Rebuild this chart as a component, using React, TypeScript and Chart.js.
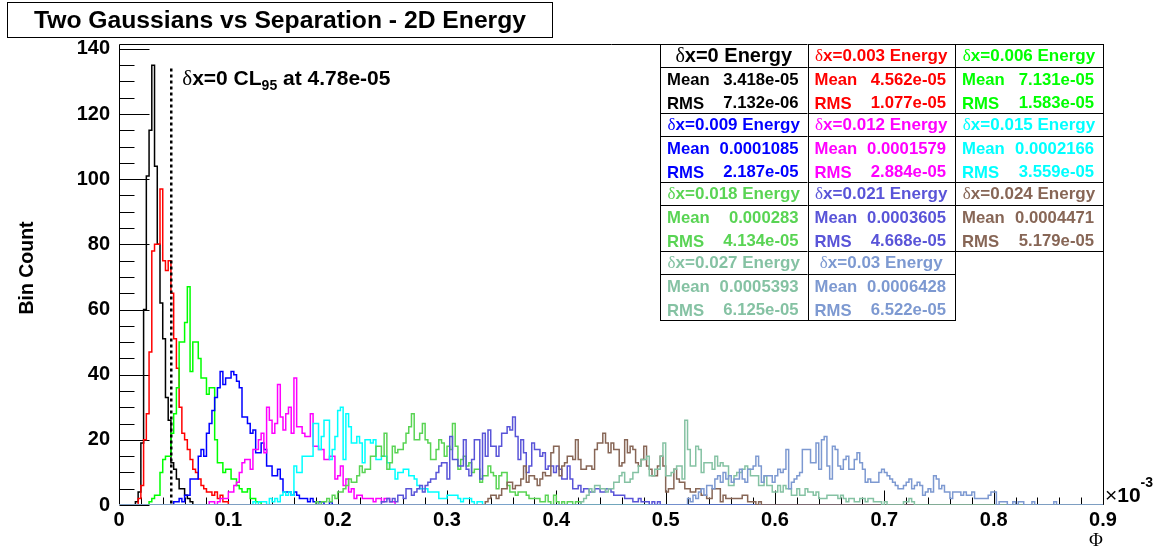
import React, { useEffect, useRef } from 'react';
import { Chart, registerables } from 'chart.js';

Chart.register(...registerables);

const WIDTH = 1163;
const HEIGHT = 551;
const SANS = '"Liberation Sans", Arial, Helvetica, sans-serif';
const SERIF = '"Liberation Serif", "Times New Roman", serif';

// ---- axes ----
const BIN_WIDTH = 0.0025; // in units of 1e-3
const X_MIN = 0;
const X_MAX = 0.9;
const Y_MIN = 0;
const Y_MAX = 141.5;
const X_TICK_STEP = 0.1;
const X_MINOR_STEP = 0.02;
const Y_TICK_STEP = 20;
const Y_MINOR_STEP = 5;

const chartTitle = 'Two Gaussians vs Separation - 2D Energy';
const yAxisTitle = 'Bin Count';
const xAxisTitle = 'Φ';

// ---- series ----
const seriesLabels = ['δx=0', 'δx=0.003', 'δx=0.006', 'δx=0.009', 'δx=0.012', 'δx=0.015', 'δx=0.018', 'δx=0.021', 'δx=0.024', 'δx=0.027', 'δx=0.03'];
const seriesColors = ['#000000', '#ff0000', '#00ff00', '#0000ff', '#ff00ff', '#00ffff', '#59d454', '#5954d8', '#876656', '#85c2a3', '#7d99d1'];
const seriesMeans = ['3.418e-05', '4.562e-05', '7.131e-05', '0.0001085', '0.0001579', '0.0002166', '0.000283', '0.0003605', '0.0004471', '0.0005393', '0.0006428'];
const seriesRms = ['7.132e-06', '1.077e-05', '1.583e-05', '2.187e-05', '2.884e-05', '3.559e-05', '4.134e-05', '4.668e-05', '5.179e-05', '6.125e-05', '6.522e-05'];
const seriesFirstBins = [6, 7, 11, 20, 33, 49, 72, 96, 134, 169, 208];

const countsDx0 = [1, 4, 19, 60, 101, 115, 135, 104, 80, 62, 51, 33, 26, 13, 11, 8, 5, 5, 3, 2, 1];
const countsDx003 = [2, 6, 20, 28, 47, 78, 80, 80, 97, 75, 72, 75, 65, 51, 42, 30, 22, 20, 17, 14, 11, 10, 8, 6, 5, 4, 4, 3, 4, 2, 3, 1, 1];
const countsDx006 = [1, 2, 3, 3, 10, 14, 15, 15, 22, 28, 36, 50, 50, 56, 67, 41, 50, 50, 45, 39, 39, 34, 36, 36, 20, 13, 13, 10, 11, 11, 8, 8, 6, 5, 4, 4, 5, 2, 2, 1, 1];
const countsDx009 = [1, 1, 2, 1, 3, 3, 8, 8, 8, 15, 17, 15, 22, 25, 29, 33, 36, 41, 37, 39, 39, 41, 40, 38, 36, 27, 27, 25, 22, 23, 16, 16, 19, 17, 12, 12, 9, 9, 11, 8, 4, 4, 4, 3, 4, 3, 2, 2, 2, 1, 2, 1, 0, 1, 1, 0, 0, 1];
const countsDx012 = [1, 1, 0, 1, 2, 2, 2, 4, 4, 6, 7, 10, 13, 14, 14, 11, 17, 17, 20, 22, 16, 30, 26, 22, 25, 37, 27, 23, 28, 30, 22, 39, 24, 24, 22, 21, 21, 28, 18, 18, 17, 17, 14, 14, 15, 15, 8, 9, 12, 6, 8, 4, 5, 2, 3, 3, 2, 2, 2, 2, 1, 2, 2, 1, 2, 2, 1, 1];
const countsDx015 = [1, 0, 1, 1, 1, 0, 2, 1, 2, 1, 3, 4, 3, 4, 3, 12, 10, 10, 15, 15, 15, 15, 25, 25, 17, 21, 26, 26, 14, 17, 21, 29, 30, 14, 28, 24, 19, 19, 21, 19, 13, 20, 20, 19, 20, 14, 14, 15, 15, 13, 11, 11, 8, 10, 10, 11, 11, 9, 9, 8, 6, 5, 5, 5, 4, 4, 4, 4, 2, 2, 2, 3, 3, 3, 3, 2, 1, 2, 2, 2, 1, 0, 1, 1];
const countsDx018 = [1, 0, 1, 1, 2, 1, 3, 2, 4, 4, 5, 6, 8, 7, 7, 9, 12, 10, 11, 11, 15, 15, 18, 18, 15, 22, 11, 13, 18, 16, 17, 17, 19, 22, 24, 28, 20, 20, 22, 25, 20, 19, 14, 14, 17, 20, 19, 15, 18, 17, 25, 18, 11, 14, 15, 12, 13, 10, 11, 11, 7, 9, 9, 12, 10, 9, 5, 9, 10, 10, 6, 4, 4, 3, 4, 4, 4, 3, 2, 2, 2, 2, 1, 1, 3, 1, 0, 3, 1, 0, 1, 0, 1, 1, 0, 1, 1];
const countsDx021 = [1, 1, 2, 1, 2, 1, 3, 3, 2, 5, 5, 3, 4, 5, 6, 4, 6, 7, 8, 8, 10, 12, 13, 13, 8, 21, 14, 14, 12, 12, 20, 11, 9, 14, 20, 20, 8, 22, 15, 23, 18, 18, 15, 18, 22, 22, 24, 23, 27, 21, 14, 20, 16, 10, 12, 19, 17, 17, 15, 16, 11, 12, 12, 10, 12, 11, 8, 8, 12, 8, 5, 5, 6, 4, 5, 5, 4, 4, 5, 5, 4, 4, 5, 5, 4, 3, 3, 3, 3, 2, 2, 2, 1, 1, 2, 1, 1, 1, 0, 1, 0, 1];
const countsDx024 = [1, 2, 3, 3, 2, 3, 5, 5, 7, 7, 5, 6, 6, 8, 12, 7, 9, 9, 8, 6, 8, 10, 9, 9, 16, 18, 18, 9, 12, 13, 15, 15, 14, 20, 14, 11, 11, 12, 12, 11, 17, 19, 19, 22, 19, 16, 19, 17, 17, 12, 13, 20, 16, 18, 17, 13, 12, 14, 18, 12, 11, 9, 9, 12, 15, 12, 4, 5, 5, 11, 8, 7, 7, 5, 5, 4, 4, 5, 5, 3, 3, 2, 2, 5, 5, 5, 1, 3, 2, 2, 2, 2, 2, 2, 3, 3, 1, 1, 1, 0, 1];
const countsDx027 = [1, 2, 3, 5, 4, 6, 6, 5, 5, 4, 5, 5, 7, 7, 9, 10, 7, 7, 8, 10, 10, 12, 14, 14, 15, 9, 9, 11, 11, 15, 19, 9, 9, 10, 11, 12, 12, 8, 26, 17, 12, 12, 18, 17, 10, 13, 13, 13, 11, 15, 12, 13, 12, 12, 6, 6, 9, 10, 10, 11, 12, 11, 9, 9, 9, 6, 6, 9, 6, 6, 4, 4, 6, 4, 6, 5, 5, 3, 3, 5, 3, 3, 5, 4, 4, 3, 4, 2, 2, 2, 3, 3, 3, 3, 2, 3, 2, 1, 2, 2, 1, 1, 2, 2, 1, 2, 2, 1, 1, 1, 0, 1, 0, 0, 0, 0, 0, 0, 1, 1, 2, 1];
const countsDx030 = [2, 1, 3, 2, 4, 5, 3, 6, 6, 5, 8, 9, 7, 10, 8, 9, 7, 8, 8, 11, 8, 7, 11, 11, 12, 15, 12, 7, 9, 9, 9, 7, 9, 11, 10, 11, 17, 5, 7, 8, 9, 10, 17, 17, 17, 13, 13, 19, 11, 20, 21, 12, 8, 18, 17, 12, 11, 14, 15, 11, 11, 14, 16, 13, 11, 7, 8, 7, 7, 7, 10, 11, 10, 9, 8, 7, 6, 5, 5, 6, 7, 8, 5, 6, 7, 6, 3, 4, 5, 4, 9, 8, 5, 6, 4, 4, 2, 4, 4, 4, 3, 4, 3, 3, 4, 2, 2, 2, 2, 2, 3, 4, 4, 0, 1, 1, 1, 0, 0, 1, 0, 1, 1, 0, 0, 0, 1, 0, 0, 0, 0, 0, 0, 0, 1];

const seriesCounts = [countsDx0, countsDx003, countsDx006, countsDx009, countsDx012, countsDx015, countsDx018, countsDx021, countsDx024, countsDx027, countsDx030];

// ---- annotation ----
const cl95Value = 0.0478;
const cl95Height = 134;
const cl95Label = '4.78e-05';

function buildHistogram(firstBin: number, counts: number[]) {
  const pts: { x: number; y: number }[] = [{ x: X_MIN, y: 0 }];
  counts.forEach((c, i) => pts.push({ x: (firstBin + i) * BIN_WIDTH, y: c }));
  pts.push({ x: (firstBin + counts.length) * BIN_WIDTH, y: 0 });
  pts.push({ x: X_MAX, y: 0 });
  return pts;
}

type Seg = { text: string; font: string; dy?: number };

function drawSegs(ctx: CanvasRenderingContext2D, segs: Seg[], x: number, y: number, align: 'left' | 'center' | 'right') {
  const widths = segs.map((s) => {
    ctx.font = s.font;
    return ctx.measureText(s.text).width;
  });
  const total = widths.reduce((a, b) => a + b, 0);
  let cx = align === 'left' ? x : align === 'center' ? x - total / 2 : x - total;
  ctx.textAlign = 'left';
  ctx.textBaseline = 'alphabetic';
  segs.forEach((s, i) => {
    ctx.font = s.font;
    ctx.fillText(s.text, cx, y + (s.dy || 0));
    cx += widths[i];
  });
}

const rootStylePlugin = {
  id: 'rootStyle',
  beforeDraw(chart: any) {
    const ctx = chart.ctx as CanvasRenderingContext2D;
    ctx.save();
    ctx.fillStyle = '#ffffff';
    ctx.fillRect(0, 0, chart.width, chart.height);
    ctx.restore();
  },
  beforeDatasetsDraw(chart: any) {
    const ctx = chart.ctx as CanvasRenderingContext2D;
    const a = chart.chartArea;
    const xs = chart.scales.x;
    const ys = chart.scales.y;
    ctx.save();
    ctx.strokeStyle = '#000000';
    ctx.lineWidth = 1;
    const L = Math.round(a.left) + 0.5;
    const R = Math.round(a.right) + 0.5;
    const T = Math.round(a.top) + 0.5;
    const B = Math.round(a.bottom) - 0.5;
    ctx.beginPath();
    ctx.moveTo(L, T);
    ctx.lineTo(R, T);
    ctx.lineTo(R, B);
    ctx.lineTo(L, B);
    ctx.closePath();
    ctx.stroke();
    // y ticks (inside)
    ctx.beginPath();
    for (let v = Y_MIN; v <= 140 + 1e-9; v += Y_MINOR_STEP) {
      const py = Math.round(ys.getPixelForValue(v)) + 0.5;
      const len = Math.abs(v % Y_TICK_STEP) < 1e-9 ? 30 : 15;
      ctx.moveTo(L, py);
      ctx.lineTo(L + len, py);
    }
    // x ticks (inside)
    const nMinor = Math.round((X_MAX - X_MIN) / X_MINOR_STEP);
    const perMajor = Math.round(X_TICK_STEP / X_MINOR_STEP);
    for (let k = 0; k <= nMinor; k++) {
      const v = X_MIN + k * X_MINOR_STEP;
      const px = Math.round(xs.getPixelForValue(v)) + 0.5;
      const len = k % perMajor === 0 ? 14 : 7;
      ctx.moveTo(px, B);
      ctx.lineTo(px, B - len);
    }
    ctx.stroke();
    ctx.restore();
  },
  afterDatasetsDraw(chart: any) {
    const ctx = chart.ctx as CanvasRenderingContext2D;
    const xs = chart.scales.x;
    const ys = chart.scales.y;
    ctx.save();
    // CL95 dashed line
    const clx = xs.getPixelForValue(cl95Value);
    ctx.strokeStyle = '#000000';
    ctx.lineWidth = 2.5;
    ctx.setLineDash([3, 3]);
    ctx.beginPath();
    ctx.moveTo(clx, ys.getPixelForValue(cl95Height));
    ctx.lineTo(clx, ys.getPixelForValue(0));
    ctx.stroke();
    ctx.setLineDash([]);
    ctx.fillStyle = '#000000';
    drawSegs(
      ctx,
      [
        { text: 'δ', font: `21px ${SERIF}` },
        { text: 'x=0 CL', font: `bold 21px ${SANS}` },
        { text: '95', font: `bold 14px ${SANS}`, dy: 5 },
        { text: ' at ' + cl95Label, font: `bold 21px ${SANS}` },
      ],
      clx + 11,
      84.5,
      'left'
    );

    // stats boxes
    const colX = [660, 807.5, 955, 1103];
    const rowTop = 44;
    const rowH = 69;
    const titleH = 23;
    seriesLabels.forEach((label, i) => {
      const col = i % 3;
      const row = Math.floor(i / 3);
      const x0 = colX[col];
      const x1 = colX[col + 1];
      const y0 = rowTop + row * rowH;
      const y1 = y0 + rowH;
      ctx.fillStyle = '#ffffff';
      ctx.fillRect(x0, y0, x1 - x0, y1 - y0);
      ctx.strokeStyle = '#000000';
      ctx.lineWidth = 1;
      ctx.strokeRect(Math.round(x0) + 0.5, y0 + 0.5, Math.round(x1) - Math.round(x0), rowH);
      ctx.beginPath();
      ctx.moveTo(x0, y0 + titleH + 0.5);
      ctx.lineTo(x1, y0 + titleH + 0.5);
      ctx.stroke();
      const color = seriesColors[i];
      ctx.fillStyle = color;
      const tsz = i === 0 ? 20 : 17;
      drawSegs(
        ctx,
        [
          { text: label.slice(0, 1), font: `${tsz}px ${SERIF}` },
          { text: label.slice(1) + ' Energy', font: `bold ${tsz}px ${SANS}` },
        ],
        (x0 + x1) / 2,
        y0 + (i === 0 ? 18 : 17),
        'center'
      );
      const sf = `bold 16.7px ${SANS}`;
      drawSegs(ctx, [{ text: 'Mean', font: sf }], x0 + 7, y0 + 41, 'left');
      drawSegs(ctx, [{ text: seriesMeans[i], font: sf }], x1 - 9, y0 + 41, 'right');
      drawSegs(ctx, [{ text: 'RMS', font: sf }], x0 + 7, y0 + 64.5, 'left');
      drawSegs(ctx, [{ text: seriesRms[i], font: sf }], x1 - 9, y0 + 63.5, 'right');
    });
    ctx.restore();
  },
  afterDraw(chart: any) {
    const ctx = chart.ctx as CanvasRenderingContext2D;
    const a = chart.chartArea;
    ctx.save();
    // title box
    ctx.fillStyle = '#ffffff';
    ctx.fillRect(7, 2, 546, 36);
    ctx.strokeStyle = '#000000';
    ctx.lineWidth = 1;
    ctx.strokeRect(7.5, 2.5, 545, 35);
    ctx.fillStyle = '#000000';
    drawSegs(ctx, [{ text: chartTitle, font: `bold 24.7px ${SANS}` }], 280, 27.5, 'center');
    // y axis title
    ctx.save();
    ctx.translate(33, 268);
    ctx.rotate(-Math.PI / 2);
    ctx.font = `bold 19.5px ${SANS}`;
    ctx.textAlign = 'center';
    ctx.textBaseline = 'alphabetic';
    ctx.fillText(yAxisTitle, 0, 0);
    ctx.restore();
    // x axis title
    drawSegs(ctx, [{ text: xAxisTitle, font: `19px ${SERIF}` }], a.right, 546, 'right');
    // exponent
    drawSegs(
      ctx,
      [
        { text: '×', font: `21px ${SANS}` },
        { text: '10', font: `bold 21px ${SANS}` },
        { text: '-3', font: `bold 14px ${SANS}`, dy: -15 },
      ],
      a.right + 2,
      502,
      'left'
    );
    ctx.restore();
  },
};

export default function App() {
  const canvasRef = useRef<HTMLCanvasElement | null>(null);

  useEffect(() => {
    const canvas = canvasRef.current;
    if (!canvas) return;
    const datasets = seriesLabels.map((label, i) => ({
      label,
      data: buildHistogram(seriesFirstBins[i], seriesCounts[i]),
      borderColor: seriesColors[i],
      backgroundColor: seriesColors[i],
      borderWidth: 1.5,
      pointRadius: 0,
      pointHoverRadius: 0,
      fill: false,
      stepped: 'before' as const,
      tension: 0,
      order: seriesLabels.length - 1 - i,
    }));
    const chart = new Chart(canvas, {
      type: 'line',
      data: { datasets },
      options: {
        responsive: false,
        maintainAspectRatio: false,
        animation: false,
        events: [],
        layout: { padding: { left: 0, right: 60, top: 44, bottom: 0 } },
        plugins: {
          legend: { display: false },
          tooltip: { enabled: false },
          title: { display: false },
        },
        scales: {
          x: {
            type: 'linear',
            min: X_MIN,
            max: X_MAX,
            grid: { display: false, drawTicks: false, tickLength: 0 },
            border: { display: false },
            ticks: {
              stepSize: X_TICK_STEP,
              autoSkip: false,
              maxRotation: 0,
              includeBounds: false,
              padding: 3,
              color: '#000000',
              font: { family: SANS, size: 20, weight: 'bold' },
              callback: (v: any) => (Math.abs(Number(v)) < 1e-9 ? '0' : Number(v).toFixed(1)),
            },
            afterFit: (s: any) => {
              s.height = 46;
            },
          },
          y: {
            type: 'linear',
            min: Y_MIN,
            max: Y_MAX,
            grid: { display: false, drawTicks: false, tickLength: 0 },
            border: { display: false },
            ticks: {
              stepSize: Y_TICK_STEP,
              autoSkip: false,
              includeBounds: false,
              padding: 9,
              color: '#000000',
              font: { family: SANS, size: 20, weight: 'bold' },
              callback: (v: any) => String(Math.round(Number(v))),
            },
            afterFit: (s: any) => {
              s.width = 119;
            },
          },
        },
      },
      plugins: [rootStylePlugin],
    } as any);
    return () => chart.destroy();
  }, []);

  return (
    <div style={{ position: 'absolute', left: 0, top: 0, width: WIDTH, height: HEIGHT, background: '#ffffff' }}>
      <canvas ref={canvasRef} width={WIDTH} height={HEIGHT} style={{ display: 'block', width: WIDTH, height: HEIGHT }} />
    </div>
  );
}
